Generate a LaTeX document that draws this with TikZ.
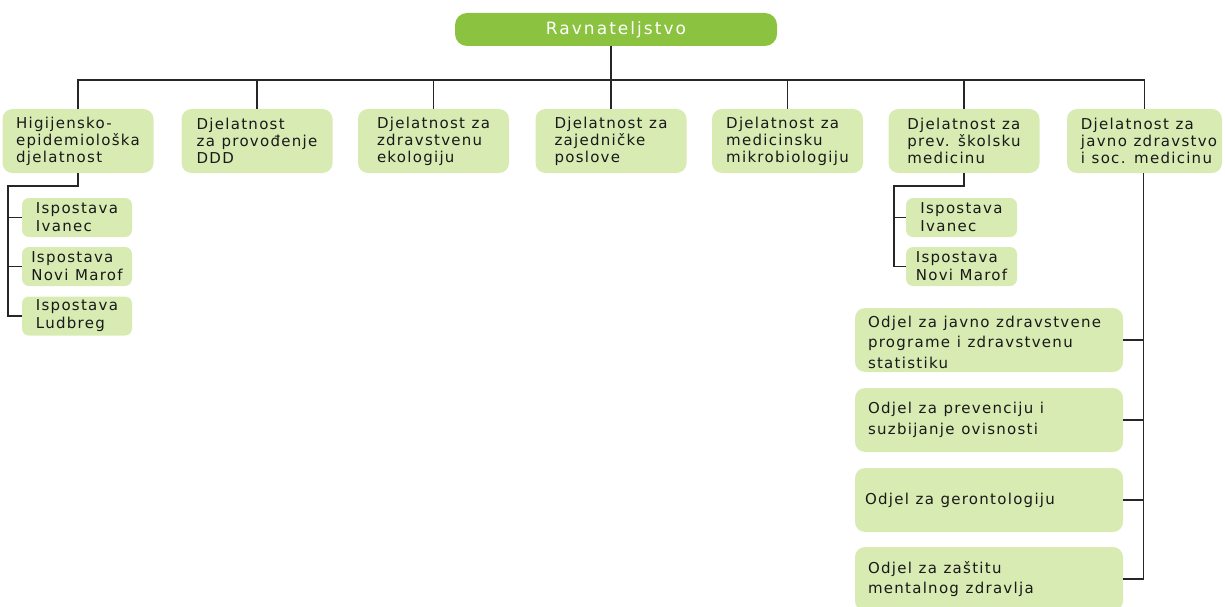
\documentclass[tikz,border=0pt]{standalone}
\usepackage{fontspec}
\setmainfont{DejaVu Sans}[LetterSpace=8.5]
\newfontfamily\titlefont{DejaVu Sans}[LetterSpace=12]
\definecolor{boxgreen}{RGB}{215,235,178}
\definecolor{titlegreen}{RGB}{139,195,64}
\definecolor{txt}{RGB}{25,25,25}
\newcommand\myfont[2]{\fontsize{#1}{#2}\selectfont\spaceskip=6.6pt\relax}
\begin{document}
\begin{tikzpicture}[x=1pt,y=-1pt,
  conn/.style={draw=black!85, line width=1.6pt},
  topbox/.style={fill=boxgreen, rounded corners=10pt, minimum width=151pt, minimum height=64pt,
    align=left, inner sep=0pt, text=txt, font=\myfont{15}{17}},
  subbox/.style={fill=boxgreen, rounded corners=7pt, minimum width=110pt, minimum height=39pt,
    align=left, inner sep=0pt, text=txt, font=\myfont{15}{18}},
  deptbox/.style={fill=boxgreen, rounded corners=10pt, minimum width=268pt, minimum height=64pt, inner sep=0pt},
  depttext/.style={anchor=west, align=left, inner sep=0pt, text=txt, font=\myfont{15}{20.5}},
  titlebox/.style={fill=titlegreen, rounded corners=12pt, minimum width=322pt, minimum height=33pt,
    inner sep=0pt, text=white, font=\titlefont\fontsize{17}{19}\selectfont}
]
\useasboundingbox (0,0) rectangle (1225,607);

\node[titlebox] (r) at (616,29.5) {Ravnateljstvo};

\node[topbox] (h1) at (78,141) {Higijensko-\\epidemiološka\\djelatnost};
\node[topbox] (h2) at (257,141) {Djelatnost\\za provođenje\\DDD};
\node[topbox] (h3) at (433.5,141) {Djelatnost za\\zdravstvenu\\ekologiju};
\node[topbox] (h4) at (611,141) {Djelatnost za\\zajedničke\\poslove};
\node[topbox] (h5) at (787.5,141) {Djelatnost za\\medicinsku\\mikrobiologiju};
\node[topbox] (h6) at (964,141) {Djelatnost za\\prev. školsku\\medicinu};
\node[topbox, minimum width=155pt] (h7) at (1144.5,141) {\hspace*{9pt}Djelatnost za\\\hspace*{9pt}javno zdravstvo\\\hspace*{9pt}i soc. medicinu};

\node[subbox] (s11) at (77,217.5) {Ispostava\\Ivanec};
\node[subbox] (s12) at (77,266.5) {Ispostava\\Novi Marof};
\node[subbox] (s13) at (77,316) {Ispostava\\Ludbreg};

\node[subbox, minimum width=111pt] (s21) at (961.5,217.5) {Ispostava\\Ivanec};
\node[subbox, minimum width=111pt] (s22) at (961.5,266.5) {Ispostava\\Novi Marof};

\node[deptbox] (d1) at (989,340) {};
\node[deptbox] (d2) at (989,420) {};
\node[deptbox] (d3) at (989,500) {};
\node[deptbox] (d4) at (989,579) {};
\node[depttext] (t1) at ([xshift=13pt,yshift=-2pt]d1.west) {Odjel za javno zdravstvene\\programe i zdravstvenu\\statistiku};
\node[depttext] (t2) at ([xshift=13pt]d2.west) {Odjel za prevenciju i\\suzbijanje ovisnosti};
\node[depttext] (t3) at ([xshift=10pt]d3.west) {Odjel za gerontologiju};
\node[depttext] (t4) at ([xshift=13pt]d4.west) {Odjel za zaštitu\\mentalnog zdravlja};

% main bus
\coordinate (busy) at (0,80);
\draw[conn] (h4.north) -- (h4.north |- r.south);
\draw[conn] (h1.north) -- (h1.north |- busy) -- (h7.north |- busy) -- (h7.north);
\foreach \n in {h2,h3,h5,h6} \draw[conn] (\n.north) -- (\n.north |- busy);

% branch under h1
\coordinate (j1) at (8,186);
\draw[conn] (h1.south) |- (j1) -- (j1 |- s13.west) -- (s13.west);
\draw[conn] (j1 |- s11.west) -- (s11.west);
\draw[conn] (j1 |- s12.west) -- (s12.west);

% branch under h6
\coordinate (j2) at (894,186);
\draw[conn] (h6.south) |- (j2) -- (j2 |- s22.west) -- (s22.west);
\draw[conn] (j2 |- s21.west) -- (s21.west);

% branch under h7
\coordinate (j3) at (1143.5,173);
\draw[conn] (j3) -- (j3 |- d4.east) -- (d4.east);
\foreach \n in {d1,d2,d3} \draw[conn] (\n.east) -- (\n.east -| j3);
\end{tikzpicture}
\end{document}
